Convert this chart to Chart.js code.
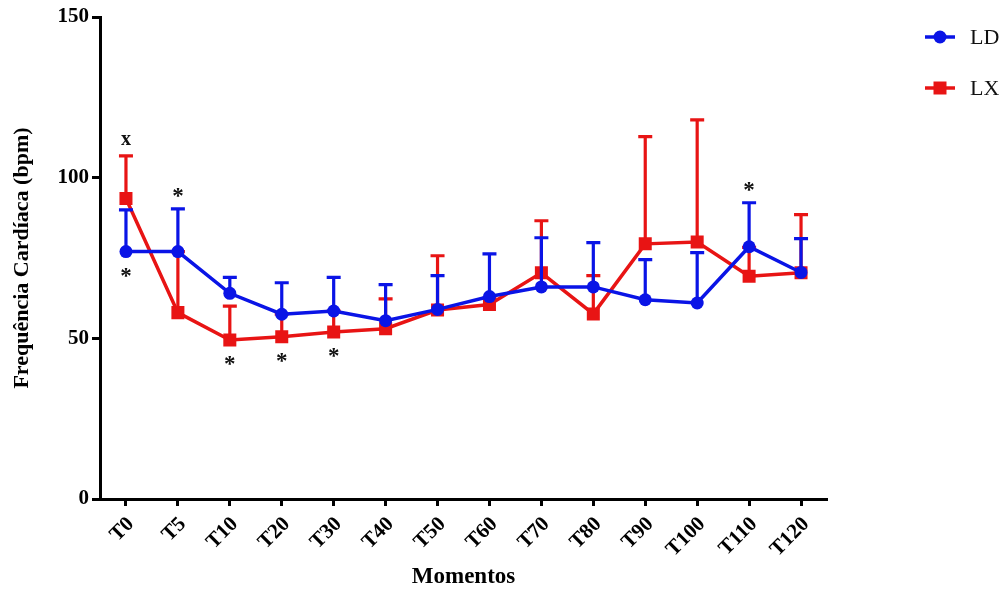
<!DOCTYPE html>
<html><head><meta charset="utf-8">
<script src="https://cdn.jsdelivr.net/npm/chart.js@4/dist/chart.umd.min.js"></script>
<style>html,body{margin:0;padding:0;background:#fff;overflow:hidden}</style>
</head><body>
<canvas id="c" width="1005" height="594"></canvas>
<script>
const categories = ['T0','T5','T10','T20','T30','T40','T50','T60','T70','T80','T90','T100','T110','T120'];
const seriesNames = ['LD','LX'];
const ldMean = [77, 77, 64, 57.5, 58.5, 55.5, 59, 63, 66, 66, 62, 61, 78.5, 70.5];
const ldErr  = [13, 13.3, 5, 9.8, 10.5, 11.2, 10.5, 13.3, 15.3, 13.8, 12.5, 15.7, 13.7, 10.5];
const lxMean = [93.5, 58, 49.5, 50.5, 52, 53, 58.8, 60.5, 70.4, 57.6, 79.4, 80, 69.3, 70.4];
const lxErr  = [13.3, 19, 10.5, 7, 6.5, 9.3, 16.9, 2, 16.2, 11.9, 33.4, 38, 9, 18.1];
const yTicks = [0, 50, 100, 150];
const markText   = ['x', '*', '*', '*', '*', '*', '*'];
const markSeries = [1, 0, 0, 1, 1, 1, 0];
const markIndex  = [0, 0, 1, 2, 3, 4, 12];
const markSide   = ['above', 'below', 'above', 'below', 'below', 'below', 'above'];

const BLUE = '#0a14e6', RED = '#e81414';
const SERIF = '"Liberation Serif", "DejaVu Serif", serif';

const errorBars = {
  id: 'errorBars',
  beforeDatasetDraw(chart, args) {
    const ds = chart.data.datasets[args.index];
    const meta = args.meta, y = chart.scales.y, ctx = chart.ctx;
    ctx.save();
    ctx.strokeStyle = ds.borderColor;
    ctx.lineWidth = 3.2;
    ds.data.forEach((v, i) => {
      const p = meta.data[i];
      const top = y.getPixelForValue(v + ds.errorUp[i]);
      ctx.beginPath();
      ctx.moveTo(p.x, p.y); ctx.lineTo(p.x, top);
      ctx.moveTo(p.x - 7, top); ctx.lineTo(p.x + 7, top);
      ctx.stroke();
    });
    ctx.restore();
  }
};

const marks = {
  id: 'marks',
  afterDraw(chart) {
    const ctx = chart.ctx, y = chart.scales.y;
    ctx.save();
    ctx.fillStyle = '#111';
    ctx.textAlign = 'center';
    ctx.textBaseline = 'alphabetic';
    markText.forEach((t, k) => {
      const ds = chart.data.datasets[markSeries[k]];
      const i = markIndex[k];
      const p = chart.getDatasetMeta(markSeries[k]).data[i];
      let cy;
      if (markSide[k] === 'above') cy = y.getPixelForValue(ds.data[i] + ds.errorUp[i]) - 16;
      else cy = p.y + 21;
      ctx.font = t === 'x' ? 'bold 20px ' + SERIF : 'bold 23px ' + SERIF;
      const m = ctx.measureText(t);
      const h = m.actualBoundingBoxAscent - m.actualBoundingBoxDescent;
      ctx.fillText(t, p.x, cy + h / 2);
    });
    ctx.restore();
  }
};

const legendBox = {
  id: 'legendBox',
  afterDraw(chart) {
    const ctx = chart.ctx;
    ctx.save();
    chart.data.datasets.forEach((ds, i) => {
      const cy = 37 + i * 51, cx = 940;
      ctx.strokeStyle = ds.borderColor; ctx.lineWidth = 3.5;
      ctx.beginPath(); ctx.moveTo(925, cy); ctx.lineTo(955, cy); ctx.stroke();
      ctx.fillStyle = ds.borderColor;
      ctx.beginPath();
      if (ds.pointStyle === 'circle') ctx.arc(cx, cy, 6.5, 0, Math.PI * 2);
      else ctx.rect(cx - 6.5, cy - 6.5, 13, 13);
      ctx.fill();
      ctx.fillStyle = '#111';
      ctx.font = '22px ' + SERIF;
      ctx.textAlign = 'left'; ctx.textBaseline = 'middle';
      ctx.fillText(ds.label, 970, cy + 1);
    });
    ctx.restore();
  }
};

new Chart(document.getElementById('c'), {
  type: 'line',
  data: {
    labels: categories,
    datasets: [
      { label: seriesNames[0], data: ldMean, errorUp: ldErr, borderColor: BLUE, backgroundColor: BLUE,
        borderWidth: 3.5, pointStyle: 'circle', pointRadius: 6.5, pointBorderWidth: 0, tension: 0 },
      { label: seriesNames[1], data: lxMean, errorUp: lxErr, borderColor: RED, backgroundColor: RED,
        borderWidth: 3.5, pointStyle: 'rect', pointRadius: 9.2, pointBorderWidth: 0, tension: 0 }
    ]
  },
  options: {
    responsive: false,
    animation: false,
    devicePixelRatio: 1,
    layout: { padding: { top: 17, right: 178, left: 0, bottom: 0 } },
    plugins: { legend: { display: false }, tooltip: { enabled: false } },
    scales: {
      x: {
        offset: true,
        grid: { offset: false, drawOnChartArea: false, tickLength: 7, tickWidth: 3, tickColor: '#000' },
        border: { color: '#000', width: 3 },
        ticks: { color: '#000', maxRotation: 45, minRotation: 45, padding: 6, labelOffset: 5,
                 font: { family: SERIF, size: 21, weight: 'bold' } },
        title: { display: true, text: 'Momentos', color: '#000', padding: { top: 0, bottom: 3 },
                 font: { family: SERIF, size: 23, weight: 'bold' } },
        afterFit(s) { s.height = 95; }
      },
      y: {
        min: 0, max: 150,
        afterBuildTicks(s) { s.ticks = yTicks.map(v => ({ value: v })); },
        grid: { drawOnChartArea: false, tickLength: 8, tickWidth: 3, tickColor: '#000' },
        border: { color: '#000', width: 3 },
        ticks: { color: '#000', padding: 3, font: { family: SERIF, size: 21, weight: 'bold' } },
        title: { display: true, text: 'Frequência Cardíaca (bpm)', color: '#000', padding: { top: 9, bottom: 0 },
                 font: { family: SERIF, size: 22, weight: 'bold' } },
        afterFit(s) { s.width = 100; }
      }
    }
  },
  plugins: [errorBars, marks, legendBox]
});
</script>
</body></html>
